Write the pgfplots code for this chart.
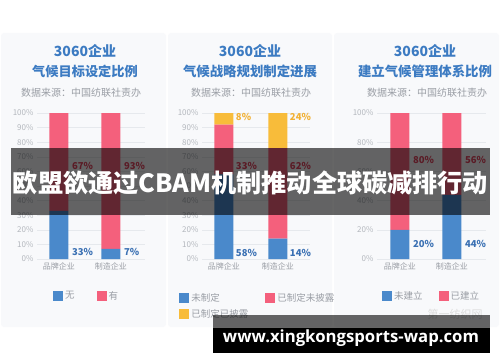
\documentclass[border=0pt]{standalone}
\usepackage{fontspec}
\setmainfont{Noto Sans CJK SC}
\newfontfamily\urlfont{Open Sans}
\usepackage{graphicx}
\usepackage{pgfplots}
\pgfplotsset{compat=1.18}
\definecolor{barblue}{HTML}{4A89CB}
\definecolor{barpink}{HTML}{F4607C}
\definecolor{baryel}{HTML}{F8BC3A}
\definecolor{titleblue}{HTML}{3C7BC2}
\definecolor{lblblue}{HTML}{3A70B3}
\definecolor{lblpink}{HTML}{E2455F}
\definecolor{lblyel}{HTML}{F2B134}
\definecolor{tickgray}{HTML}{B3B7BD}
\definecolor{txtgray}{HTML}{9A9EA5}
\definecolor{gridc}{HTML}{E6E9ED}
\definecolor{cardbg}{HTML}{F8F9FB}
\newcommand\fs[1]{\fontsize{#1}{#1}\selectfont}
\tikzset{vlab/.style={anchor=west, inner sep=1pt, font=\fs{9.5}\bfseries}}
\pgfplotsset{
  panel/.style={
    scale only axis, ybar stacked, bar width=19pt,
    ymin=0, ymax=100, clip=false,
    axis line style={draw=none}, major tick length=0pt,
    ymajorgrids, grid style={color=gridc, line width=0.6pt},
    xtick={0,1}, xticklabels={品牌企业,制造企业},
    /pgf/number format/assume math mode=true,
    yticklabel={\pgfmathprintnumber{\tick}\%},
    yticklabel style={font=\fs{8}, text=tickgray},
    xticklabel style={font=\fs{8}, text=txtgray},
    legend cell align=left,
    legend image code/.code={\fill[##1] (0pt,-5pt) rectangle (10pt,5pt);},
    legend style={draw=none, fill=none, font=\fs{9.5}, text=txtgray},
  },
}
\begin{document}
\begin{tikzpicture}[x=1pt,y=1pt]
\path[use as bounding box, fill=white] (0,0) rectangle (500,362);
% cards
\fill[cardbg, rounded corners=3pt] (1,35) rectangle (166,329);
\fill[cardbg, rounded corners=3pt] (168,35) rectangle (332,329);
\fill[cardbg, rounded corners=3pt] (334,35) rectangle (499,329);
% titles
\node[text=titleblue, font=\fs{14}\bfseries] at (85,311) {3060企业};
\node[text=titleblue, font=\fs{13.2}\bfseries] at (85,291) {气候目标设定比例};
\node[text=txtgray, font=\fs{10}] at (81,269) {数据来源：中国纺联社责办};
\node[text=titleblue, font=\fs{14}\bfseries] at (250,311) {3060企业};
\node[text=titleblue, font=\fs{13.4}\bfseries] at (250,291) {气候战略规划制定进展};
\node[text=txtgray, font=\fs{10}] at (251,269) {数据来源：中国纺联社责办};
\node[text=titleblue, font=\fs{14}\bfseries] at (425,311) {3060企业};
\node[text=titleblue, font=\fs{13.4}\bfseries] at (425,291) {建立气候管理体系比例};
\node[text=txtgray, font=\fs{10}] at (427,269) {数据来源：中国纺联社责办};
% panel 1
\begin{axis}[panel, at={(37pt,103pt)}, anchor=south west, width=108pt, height=146pt,
  xmin=-0.423, xmax=1.654, ytick={0,10,...,100},
  legend columns=2, legend style={at={(0.46,-0.253)}, anchor=center,
    /tikz/every even column/.append style={column sep=20pt}}]
\addplot[fill=barblue, draw=none] coordinates {(0,33) (1,7)};
\addplot[fill=barpink, draw=none] coordinates {(0,67) (1,93)};
\legend{无,有}
\node[vlab, text=lblblue] at (axis cs:0.23,5) {33\%};
\node[vlab, text=lblblue] at (axis cs:1.23,5) {7\%};
\node[vlab, text=lblpink] at (axis cs:0.23,64) {67\%};
\node[vlab, text=lblpink] at (axis cs:1.23,64) {93\%};
\end{axis}
% panel 2
\begin{axis}[panel, at={(202pt,103pt)}, anchor=south west, width=108pt, height=146pt,
  xmin=-0.407, xmax=1.593, ytick={0,10,...,100},
  legend columns=2, legend style={at={(-0.24,-0.205)}, anchor=north west,
    /tikz/every even column/.append style={column sep=15pt}, row sep=3pt}]
\addplot[fill=barblue, draw=none] coordinates {(0,58) (1,14)};
\addplot[fill=barpink, draw=none] coordinates {(0,34) (1,62)};
\addplot[fill=baryel, draw=none] coordinates {(0,8) (1,24)};
\legend{未制定,已制定未披露,已制定已披露}
\node[vlab, text=lblblue] at (axis cs:0.2,4) {58\%};
\node[vlab, text=lblblue] at (axis cs:1.2,4) {14\%};
\node[vlab, text=lblpink] at (axis cs:0.2,64) {33\%};
\node[vlab, text=lblpink] at (axis cs:1.2,64) {62\%};
\node[vlab, text=lblyel] at (axis cs:0.2,97) {8\%};
\node[vlab, text=lblyel] at (axis cs:1.2,97) {24\%};
\end{axis}
% panel 3
\begin{axis}[panel, at={(377pt,103pt)}, anchor=south west, width=109pt, height=146pt,
  xmin=-0.442, xmax=1.654, ytick={0,20,...,100},
  legend columns=2, legend style={at={(0.50,-0.253)}, anchor=center,
    /tikz/every even column/.append style={column sep=14pt}}]
\addplot[fill=barblue, draw=none] coordinates {(0,20) (1,44)};
\addplot[fill=barpink, draw=none] coordinates {(0,80) (1,56)};
\legend{未建立,已建立}
\node[vlab, text=lblblue] at (axis cs:0.23,10) {20\%};
\node[vlab, text=lblblue] at (axis cs:1.23,10) {44\%};
\node[vlab, text=lblpink] at (axis cs:0.23,68) {80\%};
\node[vlab, text=lblpink] at (axis cs:1.23,68) {56\%};
\end{axis}
% watermark
\node[text=black!14, font=\fs{11}] at (455,48) {第一纺织网};
% banner
\fill[black, fill opacity=0.6] (11,147) rectangle (490,214);
\node[text=white, inner sep=0pt] at (250.5,179) {\resizebox{475pt}{!}{\fs{25}\bfseries 欧盟欲通过CBAM机制推动全球碳减排行动}};
% bottom banner
\fill[black, fill opacity=0.6] (213,34) rectangle (490,47);
\fill[black] (213,9) rectangle (490,34);
\node[text=white, inner sep=0pt] at (351,24) {\resizebox{256pt}{!}{\urlfont\fs{15}\bfseries www.xingkongsports-wap.com}};
\end{tikzpicture}
\end{document}
